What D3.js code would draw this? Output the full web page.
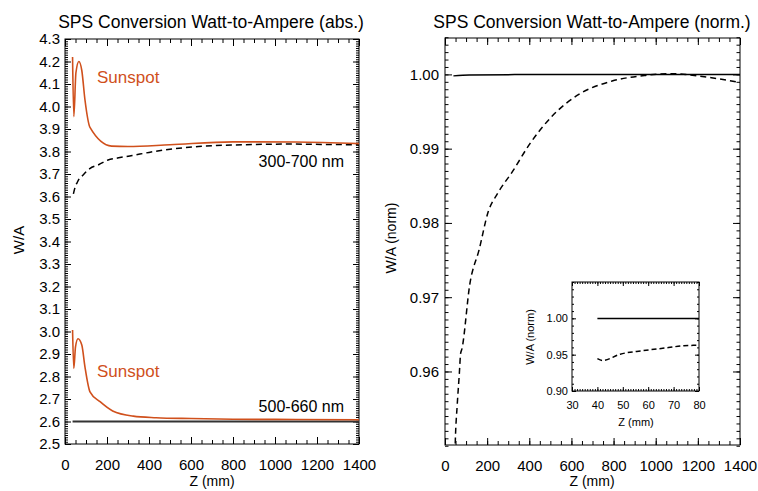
<!DOCTYPE html>
<html>
<head>
<meta charset="utf-8">
<script src="https://cdn.jsdelivr.net/npm/d3@7"></script>
<style>
  body { margin: 0; background: #fff; }
  svg text { font-family: "Liberation Sans", Arial, Helvetica, sans-serif; }
</style>
</head>
<body>
<svg width="758" height="491"></svg>
<script>
// ---- data ----
// left panel, 300-700 nm
const sun1Z = [36, 42, 52, 66, 80, 95, 119, 222, 300, 500, 800, 1100, 1400];
const sun1W = [4.22, 3.955, 4.15, 4.20, 4.16, 4.03, 3.907, 3.824, 3.822, 3.83, 3.843, 3.842, 3.835];
const dash1Z = [40, 49, 58, 68, 80, 118, 162, 205, 250, 320, 400, 510, 635, 800, 950, 1060, 1265, 1400];
const dash1W = [3.612, 3.644, 3.662, 3.679, 3.69, 3.724, 3.742, 3.762, 3.771, 3.782, 3.796, 3.811, 3.822, 3.829, 3.832, 3.833, 3.831, 3.830];
// left panel, 500-660 nm
const sun2Z = [36, 42, 50, 62, 80, 95, 119, 167, 227, 325, 434, 600, 800, 1100, 1400];
const sun2W = [3.007, 2.836, 2.932, 2.968, 2.94, 2.843, 2.732, 2.688, 2.647, 2.624, 2.617, 2.613, 2.610, 2.609, 2.608];
const flatZ = [36, 1400];
const flatW = [2.60, 2.60];
// right panel, normalized
const normDashZ = [40, 42, 49, 58, 68, 74, 80, 118, 162, 205, 250, 320, 399, 509, 635, 793, 951, 1061, 1265, 1400];
const normDash  = [0.9445, 0.942, 0.9507, 0.9555, 0.9597, 0.9624, 0.9630, 0.9718, 0.9764, 0.9815, 0.9840, 0.9869, 0.9905, 0.9944, 0.9973, 0.9991, 0.99986, 1.0001, 0.99955, 0.9989];
const normSolidZ = [40, 115, 330, 730, 1400];
const normSolid  = [0.9998, 0.99993, 0.99997, 1.0, 1.0];

// ticks
const zTicks = [0, 200, 400, 600, 800, 1000, 1200, 1400];
const zMinor = d3.range(0, 1401, 50);
const absTicks = d3.range(25, 44).map(d => d / 10);
const absMinor = d3.range(250, 431).map(d => d / 100);
const normTicks = [0.96, 0.97, 0.98, 0.99, 1.00];
const normMinor = d3.range(950, 1006).map(d => d / 1000);
const insetZTicks = [30, 40, 50, 60, 70, 80];
const insetZMinor = d3.range(30, 81);
const insetTicks = [0.90, 0.95, 1.00];
const insetMinor = d3.range(90, 106).map(d => d / 100);

const orange = "#d0501c";

let svg = d3.select("svg");

function pts(zs, vs) {
  return zs.map((z, i) => ({ z: z, v: vs[i] }));
}

function drawAxes(g, x, y, o) {
  const w = x.range()[1], h = y.range()[0];
  const sets = [
    [d3.axisBottom(x).tickValues(o.xMinor).tickSizeInner(-o.xMin).tickFormat(""), `translate(0,${h})`],
    [d3.axisTop(x).tickValues(o.xMinor).tickSizeInner(-o.xMin).tickFormat(""), null],
    [d3.axisLeft(y).tickValues(o.yMinor).tickSizeInner(-o.yMin).tickFormat(""), null],
    [d3.axisRight(y).tickValues(o.yMinor).tickSizeInner(-o.yMin).tickFormat(""), `translate(${w},0)`],
    [d3.axisTop(x).tickValues(o.xMajor).tickSizeInner(-o.xMaj).tickFormat(""), null],
    [d3.axisRight(y).tickValues(o.yMajor).tickSizeInner(-o.yMaj).tickFormat(""), `translate(${w},0)`],
    [d3.axisBottom(x).tickValues(o.xMajor).tickSizeInner(-o.xMaj).tickPadding(o.xPad).tickFormat(d3.format("d")), `translate(0,${h})`],
    [d3.axisLeft(y).tickValues(o.yMajor).tickSizeInner(-o.yMaj).tickPadding(o.yPad).tickFormat(d3.format(o.yFmt)), null]
  ];
  sets.forEach(function(s) {
    let a = g.append("g").call(s[0].tickSizeOuter(0));
    if (s[1]) a.attr("transform", s[1]);
    a.attr("font-size", o.fs);
    a.select(".domain").remove();
    a.selectAll("line").attr("stroke", "#000");
    a.selectAll("text").attr("fill", "#000");
  });
  g.append("rect")
    .attr("width", w).attr("height", h)
    .attr("fill", "none").attr("stroke", "#000").attr("stroke-width", 1);
}

function addLine(g, x, y, data, color, width, dash, clip) {
  const line = d3.line().x(d => x(d.z)).y(d => y(d.v)).curve(d3.curveMonotoneX);
  let p = g.append("path")
    .datum(data)
    .attr("d", line)
    .attr("fill", "none")
    .attr("stroke", color)
    .attr("stroke-width", width);
  if (dash) p.attr("stroke-dasharray", dash);
  if (clip) p.attr("clip-path", `url(#${clip})`);
}

// ---------- left panel ----------
const L = { left: 65, top: 39, w: 294, h: 405 };
const gl = svg.append("g").attr("transform", `translate(${L.left},${L.top})`);
const xl = d3.scaleLinear().domain([0, 1400]).range([0, L.w]);
const yl = d3.scaleLinear().domain([2.5, 4.3]).range([L.h, 0]);

drawAxes(gl, xl, yl, {
  xMajor: zTicks, xMinor: zMinor, yMajor: absTicks, yMinor: absMinor,
  xMaj: 7, xMin: 4, yMaj: 6, yMin: 3, xPad: 15, yPad: 5, yFmt: ".1f", fs: 15
});

addLine(gl, xl, yl, pts(flatZ, flatW), "#333", 2, null);
addLine(gl, xl, yl, pts(dash1Z, dash1W), "#000", 1.5, "6,4");
addLine(gl, xl, yl, pts(sun1Z, sun1W), orange, 1.6, null);
addLine(gl, xl, yl, pts(sun2Z, sun2W), orange, 1.6, null);

svg.append("text").attr("x", 97).attr("y", 83).attr("font-size", 17).attr("fill", orange).text("Sunspot");
svg.append("text").attr("x", 97).attr("y", 377).attr("font-size", 17).attr("fill", orange).text("Sunspot");
svg.append("text").attr("x", 344).attr("y", 167).attr("font-size", 16).attr("text-anchor", "end").text("300-700 nm");
svg.append("text").attr("x", 344).attr("y", 412).attr("font-size", 16).attr("text-anchor", "end").text("500-660 nm");

svg.append("text").attr("x", 211).attr("y", 28).attr("font-size", 17.5).attr("text-anchor", "middle")
  .text("SPS Conversion Watt-to-Ampere (abs.)");
svg.append("text").attr("x", 212).attr("y", 486).attr("font-size", 14).attr("text-anchor", "middle").text("Z (mm)");
svg.append("text").attr("transform", "translate(24,240)rotate(-90)").attr("font-size", 15)
  .attr("text-anchor", "middle").text("W/A");

// ---------- right panel ----------
const R = { left: 445, top: 38, w: 295, h: 407 };
const gr = svg.append("g").attr("transform", `translate(${R.left},${R.top})`);
const xr = d3.scaleLinear().domain([0, 1400]).range([0, R.w]);
const yr = d3.scaleLinear().domain([0.9501, 1.0049]).range([R.h, 0]);

svg.append("defs").append("clipPath").attr("id", "clipR")
  .append("rect").attr("width", R.w).attr("height", R.h);

drawAxes(gr, xr, yr, {
  xMajor: zTicks, xMinor: zMinor, yMajor: normTicks, yMinor: normMinor,
  xMaj: 7, xMin: 4, yMaj: 7, yMin: 3.5, xPad: 15, yPad: 6, yFmt: ".2f", fs: 15
});

addLine(gr, xr, yr, pts(normSolidZ, normSolid), "#000", 1.5, null, "clipR");
addLine(gr, xr, yr, pts(normDashZ, normDash), "#000", 1.5, "6,4", "clipR");

svg.append("text").attr("x", 592).attr("y", 28).attr("font-size", 17.5).attr("text-anchor", "middle")
  .text("SPS Conversion Watt-to-Ampere (norm.)");
svg.append("text").attr("x", 592).attr("y", 486).attr("font-size", 14).attr("text-anchor", "middle").text("Z (mm)");
svg.append("text").attr("transform", "translate(396,238)rotate(-90)").attr("font-size", 14)
  .attr("text-anchor", "middle").text("W/A (norm)");

// ---------- inset ----------
const I = { left: 572, top: 282, w: 127, h: 109 };
const gi = svg.append("g").attr("transform", `translate(${I.left},${I.top})`);
const xi = d3.scaleLinear().domain([30, 80]).range([0, I.w]);
const yi = d3.scaleLinear().domain([0.90, 1.05]).range([I.h, 0]);

svg.select("defs").append("clipPath").attr("id", "clipI")
  .append("rect").attr("width", I.w).attr("height", I.h);

gi.append("rect").attr("width", I.w).attr("height", I.h).attr("fill", "#fff");
drawAxes(gi, xi, yi, {
  xMajor: insetZTicks, xMinor: insetZMinor, yMajor: insetTicks, yMinor: insetMinor,
  xMaj: 4, xMin: 2, yMaj: 4, yMin: 2, xPad: 10, yPad: 4, yFmt: ".2f", fs: 11
});

addLine(gi, xi, yi, pts(normSolidZ, normSolid), "#000", 1.5, null, "clipI");
addLine(gi, xi, yi, pts(normDashZ, normDash), "#000", 1.5, "5,3", "clipI");

svg.append("text").attr("x", 636).attr("y", 426).attr("font-size", 11).attr("text-anchor", "middle").text("Z (mm)");
svg.append("text").attr("transform", "translate(534,337)rotate(-90)").attr("font-size", 11)
  .attr("text-anchor", "middle").text("W/A (norm)");
</script>
</body>
</html>
